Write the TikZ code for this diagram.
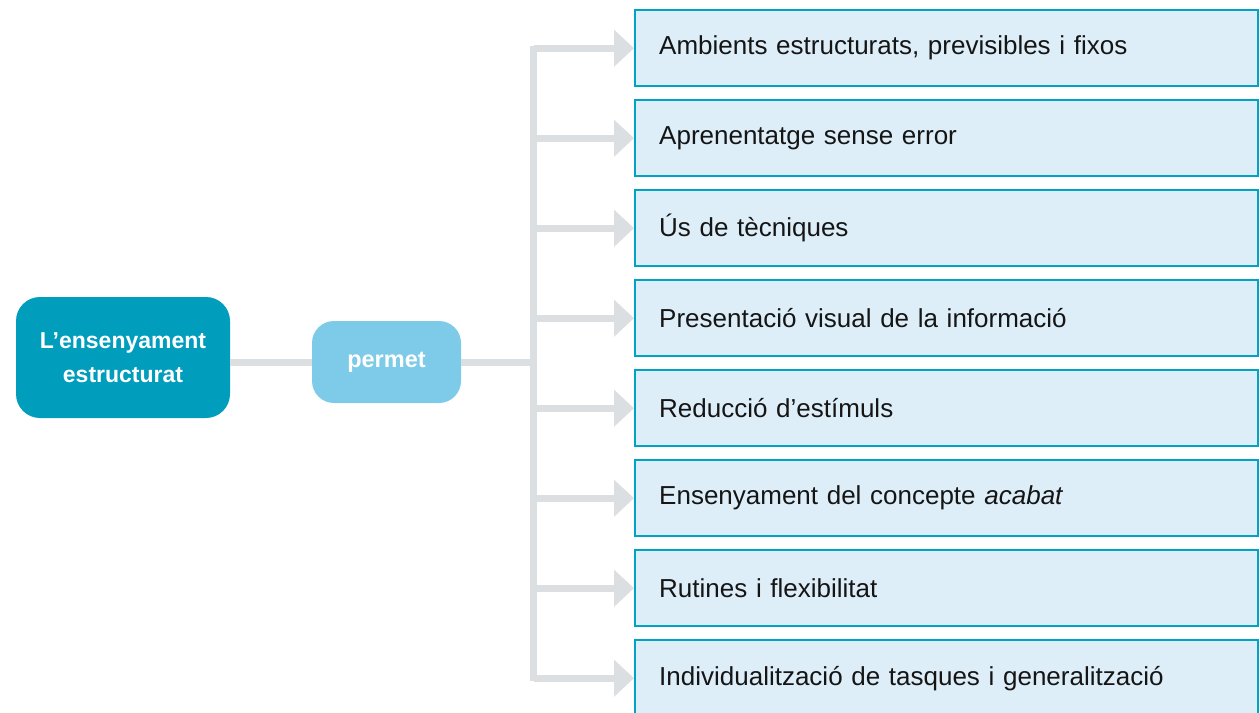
\documentclass[tikz,border=0pt]{standalone}
\usepackage{fontspec}
\setmainfont{Liberation Sans}
\usetikzlibrary{arrows.meta,positioning}
\definecolor{darkteal}{HTML}{009DBC}
\definecolor{lightteal}{HTML}{7DCBE9}
\definecolor{boxfill}{HTML}{DDEEF8}
\definecolor{boxborder}{HTML}{00A3C4}
\definecolor{linegray}{HTML}{DCDFE2}
\definecolor{txt}{HTML}{151515}
\tikzset{
  mainbox/.style={rounded corners=24pt, fill=darkteal, text=white, align=center,
    minimum width=214pt, minimum height=121pt, inner sep=0pt,
    font=\fontsize{23}{34}\selectfont\bfseries},
  verbbox/.style={rounded corners=22pt, fill=lightteal, text=white, align=center,
    minimum width=149pt, minimum height=82pt, inner sep=0pt,
    font=\fontsize{23.5}{28}\selectfont\bfseries},
  itembox/.style={draw=boxborder, line width=2.4pt, fill=boxfill, text=txt,
    anchor=north west, minimum width=623pt, minimum height=76pt,
    text width=575pt, align=left, inner xsep=22.5pt, inner ysep=0pt,
    font=\fontsize{26}{30}\selectfont},
  conn/.style={draw=linegray, line width=7pt},
  connarrow/.style={conn, -{Triangle[length=20pt,width=36pt]}},
}
\begin{document}
\begin{tikzpicture}[x=1pt,y=-1pt]
\useasboundingbox (0,0) rectangle (1260,712);
\clip (0,0) rectangle (1260,712);
% items
\node[itembox] (b1) at (634,9)   {Ambients estructurats, previsibles i fixos};
\node[itembox] (b2) at (634,99)  {Aprenentatge sense error};
\node[itembox] (b3) at (634,189) {Ús de tècniques};
\node[itembox] (b4) at (634,279) {Presentació visual de la informació};
\node[itembox] (b5) at (634,369) {Reducció d’estímuls};
\node[itembox] (b6) at (634,459) {Ensenyament del concepte \textit{acabat}};
\node[itembox] (b7) at (634,549) {Rutines i flexibilitat};
\node[itembox] (b8) at (634,639) {Individualització de tasques i generalització};
% main nodes
\node[mainbox] (main) at (123,357.5) {L’ensenyament\\estructurat};
\node[verbbox] (verb) at (386.5,362) {permet};
% connectors
\coordinate (jx) at (533.5,362);
\coordinate (jtop) at (533.5,49);
\coordinate (jbot) at (533.5,677);
\draw[conn] (main.east|-verb.west) -- (verb.west);
\draw[conn] (verb.east) -- (jx);
\draw[conn, line cap=rect] (jtop) -- (jbot);
\foreach \i in {1,...,8}{
  \draw[connarrow] (jtop|-b\i.west) -- (b\i.west);
}
\end{tikzpicture}
\end{document}
